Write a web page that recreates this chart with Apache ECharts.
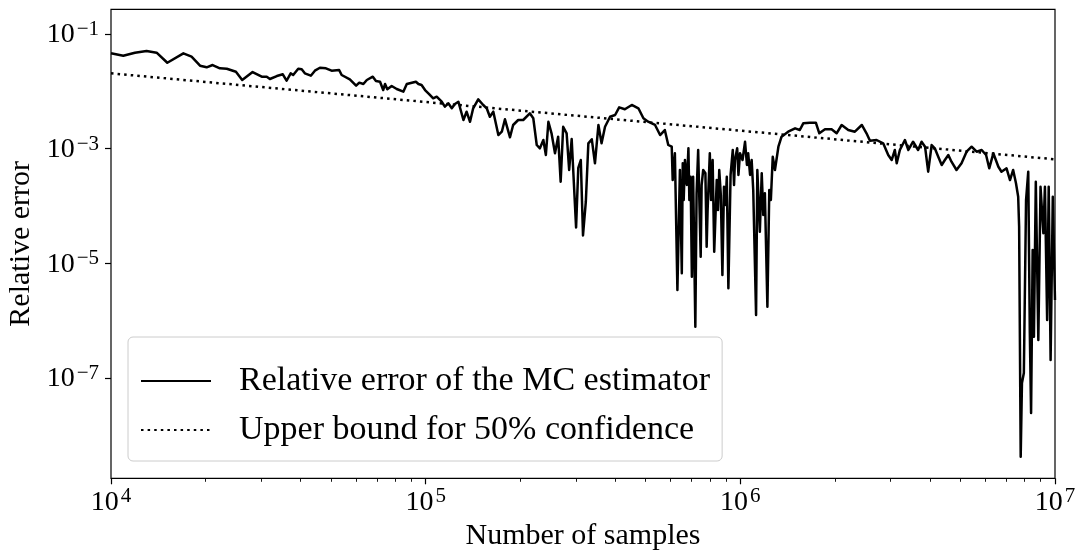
<!DOCTYPE html>
<html>
<head>
<meta charset="utf-8">
<script src="https://cdn.jsdelivr.net/npm/echarts@6.0.0/dist/echarts.min.js"></script>
<style>
  html, body { margin: 0; padding: 0; background: #fff; }
  #chart { width: 1078px; height: 552px; }
</style>
</head>
<body>
<div id="chart"></div>
<script>
// values, stored as log10 (both axes are logarithmic)
const logSamples = [
  4.000, 4.039, 4.076, 4.113, 4.145, 4.179, 4.230, 4.256, 4.283, 4.304,
  4.323, 4.346, 4.368, 4.397, 4.417, 4.450, 4.479, 4.495, 4.505, 4.527,
  4.546, 4.558, 4.571, 4.579, 4.595, 4.606, 4.616, 4.635, 4.648, 4.664,
  4.683, 4.701, 4.725, 4.733, 4.759, 4.779, 4.789, 4.802, 4.813, 4.832,
  4.842, 4.855, 4.865, 4.871, 4.878, 4.892, 4.908, 4.929, 4.940, 4.956,
  4.969, 4.977, 4.987, 4.998, 5.011, 5.024, 5.035, 5.051, 5.061, 5.072,
  5.083, 5.093, 5.104, 5.120, 5.130, 5.141, 5.151, 5.167, 5.183, 5.194,
  5.204, 5.215, 5.231, 5.242, 5.252, 5.268, 5.278, 5.294, 5.310, 5.331,
  5.342, 5.353, 5.363, 5.374, 5.382, 5.390, 5.400, 5.411, 5.421, 5.429,
  5.437, 5.448, 5.456, 5.464, 5.478, 5.485, 5.493, 5.500, 5.509, 5.517,
  5.528, 5.538, 5.549, 5.559, 5.570, 5.586, 5.602, 5.615, 5.633, 5.655,
  5.676, 5.692, 5.707, 5.729, 5.745, 5.760, 5.771, 5.782, 5.785, 5.792,
  5.800, 5.806, 5.808, 5.814, 5.817, 5.820, 5.824, 5.830, 5.835, 5.838, 5.842, 5.846, 5.850,
  5.857, 5.861, 5.866, 5.874, 5.877, 5.882, 5.889, 5.893, 5.896, 5.903, 5.907, 5.912, 5.917,
  5.925, 5.929, 5.933, 5.938, 5.943, 5.948, 5.953, 5.957, 5.962, 5.969, 5.976, 5.980, 5.983, 5.990, 5.994,
  5.999, 6.007, 6.015, 6.021, 6.025, 6.031, 6.036, 6.041, 6.050, 6.054, 6.062, 6.068, 6.073, 6.078,
  6.086, 6.092, 6.097, 6.103, 6.110, 6.121, 6.131, 6.152, 6.174, 6.189, 6.200,
  6.221, 6.240, 6.251, 6.269, 6.290, 6.306, 6.322, 6.343, 6.364, 6.386,
  6.401, 6.412, 6.433, 6.454, 6.470, 6.481, 6.491, 6.497, 6.507, 6.523,
  6.534, 6.549, 6.565, 6.576, 6.587, 6.597, 6.608, 6.618, 6.629, 6.640,
  6.650, 6.661, 6.671, 6.687, 6.703, 6.719, 6.735, 6.751, 6.767, 6.781,
  6.791, 6.804, 6.820, 6.830, 6.846, 6.857, 6.867, 6.876, 6.883, 6.886,
  6.891, 6.895, 6.901, 6.908, 6.915, 6.920, 6.924, 6.929, 6.933, 6.939,
  6.947, 6.954, 6.963, 6.968, 6.975, 6.980, 6.986, 6.993, 7.000
]
const logRelErr = [
  -1.337, -1.379, -1.326, -1.297, -1.326, -1.501, -1.337, -1.396, -1.553, -1.581,
  -1.541, -1.598, -1.605, -1.658, -1.802, -1.663, -1.745, -1.745, -1.785, -1.733,
  -1.703, -1.815, -1.686, -1.715, -1.605, -1.616, -1.686, -1.727, -1.640, -1.588,
  -1.598, -1.640, -1.628, -1.715, -1.790, -1.902, -1.849, -1.872, -1.802, -1.745,
  -1.820, -1.832, -1.977, -1.872, -1.965, -1.907, -1.959, -2.006, -1.872, -1.849,
  -1.832, -1.872, -1.890, -1.977, -2.047, -2.122, -2.094, -2.181, -2.268, -2.209,
  -2.296, -2.221, -2.181, -2.500, -2.355, -2.530, -2.296, -2.139, -2.238, -2.296,
  -2.443, -2.355, -2.762, -2.704, -2.488, -2.802, -2.587, -2.500, -2.500, -2.383,
  -2.470, -2.936, -2.994, -2.849, -3.111, -2.530, -2.732, -3.081, -2.791, -3.576,
  -2.617, -2.732, -3.372, -2.832, -4.375, -3.337, -3.198, -4.515, -3.925, -2.907,
  -2.837, -3.255, -2.587, -2.907, -2.617, -2.443, -2.413, -2.279, -2.313, -2.238,
  -2.296, -2.470, -2.530, -2.587, -2.762, -2.675, -2.936, -2.966, -3.547, -3.081,
  -5.465, -3.896, -3.372, -5.174, -3.255, -3.896, -3.198, -3.634, -2.994, -3.896, -3.489, -5.233, -3.489,
  -6.106, -3.779, -3.023, -4.885, -3.634, -3.372, -3.430, -4.710, -4.070, -3.081, -3.896, -3.198, -4.797,
  -3.547, -4.070, -3.372, -3.808, -5.204, -3.664, -3.983, -3.489, -5.436, -3.459, -3.023, -3.634, -3.198, -2.994, -3.459,
  -3.081, -3.198, -2.879, -3.285, -3.081, -3.459, -3.198, -3.721, -5.901, -3.372, -4.448, -3.430, -4.157, -3.779,
  -5.757, -3.721, -3.896, -3.140, -3.372, -2.966, -2.791, -2.704, -2.645, -2.675, -2.558,
  -2.547, -2.547, -2.732, -2.662, -2.662, -2.732, -2.587, -2.675, -2.704, -2.587,
  -2.732, -2.861, -2.849, -2.907, -3.111, -3.198, -3.023, -3.255, -3.023, -2.849,
  -3.023, -2.879, -3.023, -2.879, -2.966, -3.402, -2.936, -2.994, -3.140, -3.285,
  -3.198, -3.111, -3.227, -3.372, -3.255, -3.053, -2.966, -3.053, -3.023, -3.111,
  -3.343, -3.081, -3.315, -3.402, -3.343, -3.547, -3.372, -3.604, -3.838, -4.361,
  -8.373, -7.088, -6.913, -3.896, -3.402, -6.215, -7.611, -4.768, -6.280, -3.576,
  -6.338, -3.664, -4.476, -3.664, -5.989, -3.664, -6.686, -3.838, -5.640
]
const logBoundSamples = [4, 7]
const logBound = [-1.686, -3.186]

const xTickExps = [4, 5, 6, 7]
const yTickExps = [-7, -5, -3, -1]
const minorMultipliers = [2, 3, 4, 5, 6, 7, 8, 9]

const serif = "'Liberation Serif', 'DejaVu Serif', serif"

let myChart = echarts.init(document.getElementById('chart'))

// minor ticks of a log axis: 2..9 times each decade
let xMinor = []
xTickExps.slice(0, -1).forEach(d => {
  minorMultipliers.forEach(m => xMinor.push(d + Math.log10(m)))
})

function powLabel(v) {
  let e = v < 0 ? '\u2212' + (-v) : String(v)
  return '{b|10}{s|' + e + '}'
}
const powRich = {
  b: { fontFamily: serif, fontSize: 28, lineHeight: 30, color: '#000', verticalAlign: 'bottom' },
  s: { fontFamily: serif, fontSize: 21, lineHeight: 18, color: '#000', verticalAlign: 'top', padding: [0, 0, 0, 2] }
}

let option = {
  animation: false,
  backgroundColor: '#fff',
  grid: {
    left: 111,
    right: 23,
    top: 9.3,
    bottom: 73.7,
    show: true,
    borderColor: '#000',
    borderWidth: 1.2,
    backgroundColor: 'transparent',
    containLabel: false,
    outerBoundsMode: 'none'
  },
  legend: {
    orient: 'vertical',
    left: 128,
    top: 337,
    itemWidth: 70,
    itemHeight: 14,
    itemGap: 9,
    padding: [24, 12, 11, 12],
    backgroundColor: 'rgba(255,255,255,0.8)',
    borderColor: '#cccccc',
    borderWidth: 1,
    borderRadius: 5,
    selectedMode: false,
    // hide the symbol that line series put in their legend icon
    itemStyle: { color: 'rgba(0,0,0,0)', borderColor: 'rgba(0,0,0,0)', borderWidth: 0 },
    textStyle: {
      fontFamily: serif,
      fontSize: 34,
      lineHeight: 40,
      color: '#000',
      padding: [0, 0, 0, 23]
    },
    data: ['Relative error of the MC estimator', 'Upper bound for 50% confidence']
  },
  xAxis: [
    {
      type: 'value',
      position: 'bottom',
      min: 4,
      max: 7,
      name: 'Number of samples',
      nameLocation: 'middle',
      nameGap: 39,
      nameTextStyle: { fontFamily: serif, fontSize: 30, color: '#000' },
      axisLine: { show: false },
      splitLine: { show: false },
      axisTick: {
        customValues: xTickExps,
        length: 6,
        inside: false,
        lineStyle: { color: '#000', width: 1.2 }
      },
      axisLabel: {
        customValues: xTickExps,
        margin: 8,
        formatter: powLabel,
        rich: powRich
      }
    },
    {
      type: 'value',
      position: 'bottom',
      min: 4,
      max: 7,
      axisLine: { show: false },
      splitLine: { show: false },
      axisLabel: { show: false },
      axisTick: {
        customValues: xMinor,
        length: 3.5,
        inside: false,
        lineStyle: { color: '#000', width: 0.9 }
      }
    }
  ],
  yAxis: {
    type: 'value',
    min: -8.75,
    max: -0.569,
    name: 'Relative error',
    nameLocation: 'middle',
    nameGap: 73,
    nameRotate: 90,
    nameTextStyle: { fontFamily: serif, fontSize: 30, color: '#000' },
    axisLine: { show: false },
    splitLine: { show: false },
    axisTick: {
      customValues: yTickExps,
      length: 6,
      inside: false,
      lineStyle: { color: '#000', width: 1.2 }
    },
    axisLabel: {
      customValues: yTickExps,
      margin: 12,
      formatter: powLabel,
      rich: powRich
    }
  },
  series: [
    {
      name: 'Relative error of the MC estimator',
      type: 'line',
      xAxisIndex: 0,
      symbol: 'none',
      showSymbol: false,
      data: logSamples.map((x, i) => [x, logRelErr[i]]),
      lineStyle: { color: '#000', width: 2.5, join: 'round' },
      itemStyle: { color: '#000' },
      z: 3
    },
    {
      name: 'Upper bound for 50% confidence',
      type: 'line',
      xAxisIndex: 0,
      symbol: 'none',
      showSymbol: false,
      data: logBoundSamples.map((x, i) => [x, logBound[i]]),
      lineStyle: { color: '#000', width: 2.5, type: [2.5, 4.1], cap: 'butt' },
      itemStyle: { color: '#000' },
      z: 2
    }
  ]
}
myChart.setOption(option)
</script>
</body>
</html>
